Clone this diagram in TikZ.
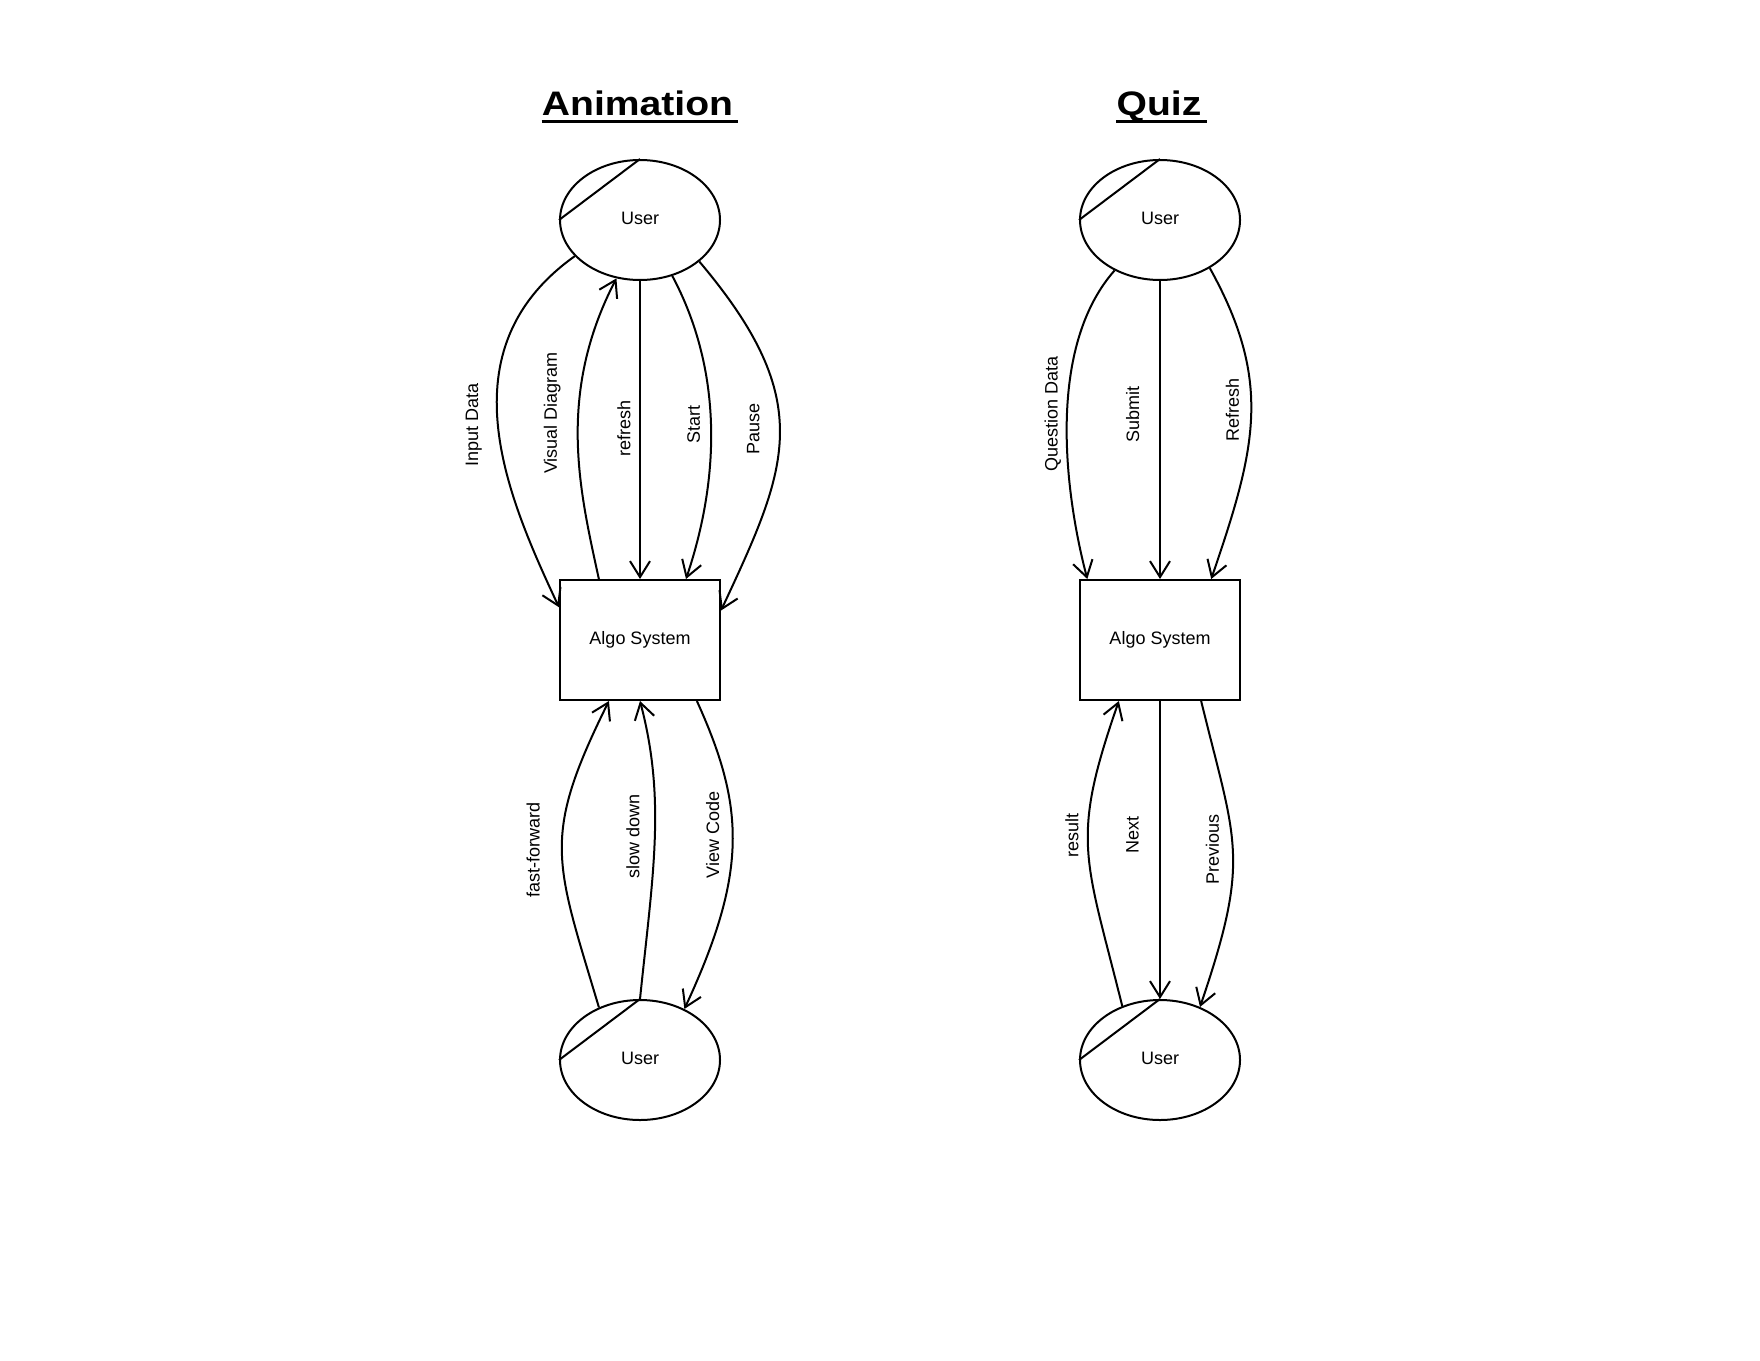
\documentclass[tikz,border=0pt]{standalone}
\usepackage{fontspec}
\setmainfont{Liberation Sans}
\newfontfamily\titlefont[FakeStretch=1.15]{Liberation Sans}
\usetikzlibrary{arrows.meta,shapes.geometric}
\begin{document}
\begin{tikzpicture}[x=0.5pt,y=-0.5pt,
  every node/.style={font=\fontsize{9}{11}\selectfont},
  actor/.style={draw, ellipse, line width=1pt, minimum width=80pt, minimum height=60pt, inner sep=0pt, text height=6.5pt, text depth=2.5pt},
  sys/.style={draw, rectangle, line width=1pt, minimum width=80pt, minimum height=60pt, inner sep=0pt, text height=6.5pt, text depth=2.5pt},
  flow/.style={line width=1pt, -{Straight Barb[length=8pt,width=10pt]}},
  slash/.style={line width=1pt},
  lbl/.style={rotate=90, inner sep=0pt},
  ttl/.style={anchor=base, inner sep=0pt, font=\titlefont\bfseries\fontsize{17}{20}\selectfont},
  ul/.style={line width=1.8pt}]
\useasboundingbox (0,0) rectangle (1760,1360);

% titles
\node[ttl] (ta) at (637.5,115) {Animation};
\node[ttl] (tq) at (1159,115) {Quiz};
\draw[ul] ([yshift=-3.15pt]ta.base west) -- ([xshift=2.5pt,yshift=-3.15pt]ta.base east);
\draw[ul] ([yshift=-3.15pt]tq.base west) -- ([xshift=2.5pt,yshift=-3.15pt]tq.base east);

% animation column
\node[actor] (ua) at (640,220) {User};
\node[sys] (ba) at (640,640) {Algo System};
\node[actor] (da) at (640,1060) {User};
\draw[slash] (ua.west) -- (ua.north);
\draw[slash] (da.west) -- (da.north);

% quiz column
\node[actor] (uq) at (1160,220) {User};
\node[sys] (bq) at (1160,640) {Algo System};
\node[actor] (dq) at (1160,1060) {User};
\draw[slash] (uq.west) -- (uq.north);
\draw[slash] (dq.west) -- (dq.north);

% animation connectors (top)
\draw[flow] (ua.209) .. controls (443,350) and (507,496) .. (ba.158);
\draw[flow] (ba.124) .. controls (580,492) and (556,395) .. (ua.248);
\draw[flow] (ua.south) -- (ba.north);
\draw[flow] (ua.300) .. controls (723,371) and (720,478) .. (ba.53);
\draw[flow] (ua.325) .. controls (818,402) and (788,467) .. (ba.20);
% animation connectors (bottom)
\draw[flow] (da.128) .. controls (555,860) and (541,838) .. (ba.243);
\draw[flow] (da.north) .. controls (653,873) and (666,800) .. (ba.south);
\draw[flow] (ba.313) .. controls (745,807) and (748,872) .. (da.49);

% quiz connectors (top)
\draw[flow] (uq.228) .. controls (1047,347) and (1064,490) .. (bq.140);
\draw[flow] (uq.south) -- (bq.north);
\draw[flow] (uq.316) .. controls (1273,382) and (1256,448) .. (bq.50);
% quiz connectors (bottom)
\draw[flow] (dq.125) .. controls (1085,856) and (1070,841) .. (bq.236);
\draw[flow] (bq.south) -- (dq.north);
\draw[flow] (bq.304) .. controls (1236,844) and (1251,857) .. (dq.53);

% labels
\node[lbl] (l1) at (473.7,425.4) {Input Data};
\node[lbl] (l2) at (552.2,413) {Visual Diagram};
\node[lbl] (l3) at (624,428.8) {refresh};
\node[lbl] (l4) at (693.7,424.3) {Start};
\node[lbl] (l5) at (753.2,428.8) {Pause};
\node[lbl] (l6) at (533.2,849.7) {fast-forward};
\node[lbl] (l7) at (633,836.2) {slow down};
\node[lbl] (l8) at (712.8,835) {View Code};
\node[lbl] (l9) at (1052.9,414.2) {Question Data};
\node[lbl] (l10) at (1132.6,414.2) {Submit};
\node[lbl] (l11) at (1232.5,409.7) {Refresh};
\node[lbl] (l12) at (1071.9,835) {result};
\node[lbl] (l13) at (1132.6,835) {Next};
\node[lbl] (l14) at (1212.3,849.7) {Previous};
\end{tikzpicture}
\end{document}
